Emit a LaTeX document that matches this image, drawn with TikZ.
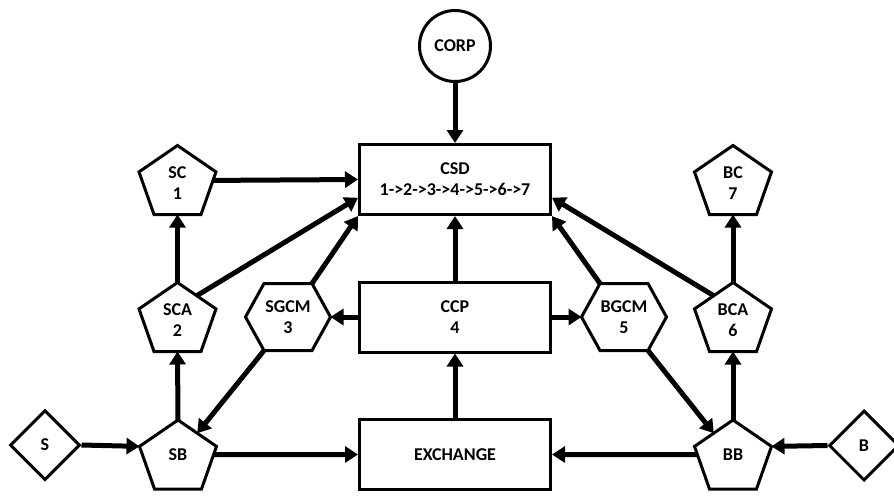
\documentclass[tikz,border=0pt]{standalone}
\usepackage{fontspec}
\setmainfont{Carlito}
\usetikzlibrary{arrows.meta,calc,shapes.geometric}
% pentagon: name, x, y (box centre), text, text shift
\newcommand\pent[5]{%
  \coordinate (#1-t) at (#2,#3-34.5);
  \coordinate (#1-r) at (#2+38.5,#3-8.1);
  \coordinate (#1-br) at (#2+23.5,#3+34.5);
  \coordinate (#1-bl) at (#2-23.5,#3+34.5);
  \coordinate (#1-l) at (#2-38.5,#3-8.1);
  \draw[outl] (#1-t)--(#1-r)--(#1-br)--(#1-bl)--(#1-l)--cycle;
  \node[minimum width=77pt,minimum height=69pt] (#1) at (#2,#3+#5) {#4};
}
% hexagon: name, x, y, text
\newcommand\hexa[4]{%
  \coordinate (#1-l) at (#2-42.5,#3);
  \coordinate (#1-tl) at (#2-24,#3-33.5);
  \coordinate (#1-tr) at (#2+24,#3-33.5);
  \coordinate (#1-r) at (#2+42.5,#3);
  \coordinate (#1-br) at (#2+24,#3+33.5);
  \coordinate (#1-bl) at (#2-24,#3+33.5);
  \draw[outl] (#1-l)--(#1-tl)--(#1-tr)--(#1-r)--(#1-br)--(#1-bl)--cycle;
  \node[minimum width=85pt,minimum height=67pt] (#1) at (#2,#3) {#4};
}
\begin{document}
\begin{tikzpicture}[x=1pt,y=-1pt,
  every node/.style={font=\bfseries\fontsize{18}{21}\selectfont, align=center, inner sep=0pt},
  bx/.style={draw, line width=3pt, rectangle, minimum width=191pt, minimum height=70pt},
  outl/.style={draw, line width=3pt},
  conn/.style={line width=5pt, -{Triangle[length=13pt,width=16pt]}},
  dia/.style={draw, line width=3pt, shape=diamond, minimum width=70pt, minimum height=70pt},
]
\useasboundingbox[fill=white] (0,0) rectangle (894,496);

% central column
\node[draw, line width=3pt, circle, minimum size=71pt] (CORP) at (455,46) {CORP};
\node[bx] (CSD) at (455,179.5) {CSD\\1->2->3->4->5->6->7};
\node[bx] (CCP) at (455,317) {CCP\\4};
\node[bx] (EX) at (455,454.5) {EXCHANGE};

% left side
\pent{SC}{177.5}{180}{SC\\1}{3}
\pent{SCA}{177.5}{317}{SCA\\2}{3}
\pent{SB}{178}{454.5}{SB}{0}
\hexa{SGCM}{288}{317}{SGCM\\3}
\node[dia] (S) at (45,445) {S};

% right side
\pent{BC}{733}{180}{BC\\7}{3}
\pent{BCA}{733}{317}{BCA\\6}{3}
\pent{BB}{733}{454.5}{BB}{0}
\hexa{BGCM}{624}{317}{BGCM\\5}
\node[dia] (B) at (864,445.5) {B};

% connectors
\draw[conn] (CORP) -- (CSD);
\draw[conn] ($(SC-r)!0.2!(SC-br)$) -- (CSD.west);
\draw[conn] ($(SCA-t)!0.5!(SCA-r)$) -- ($(CSD.south west)!0.25!(CSD.north west)$);
\draw[conn] (SGCM-tr) -- (CSD.south west);
\draw[conn] (CCP) -- (CSD);
\draw[conn] (BGCM-tl) -- (CSD.south east);
\draw[conn] ($(BCA-t)!0.5!(BCA-l)$) -- ($(CSD.south east)!0.25!(CSD.north east)$);
\draw[conn] (SCA-t) -- ($(SC-bl)!0.5!(SC-br)$);
\draw[conn] (SB-t) -- ($(SCA-bl)!0.5!(SCA-br)$);
\draw[conn] (CCP.west) -- (SGCM-r);
\draw[conn] (CCP.east) -- (BGCM-l);
\draw[conn] (SGCM-bl) -- ($(SB-t)!0.5!(SB-r)$);
\draw[conn] (BGCM-br) -- ($(BB-t)!0.5!(BB-l)$);
\draw[conn] (EX) -- (CCP);
\draw[conn] ($(SB-r)!0.19!(SB-br)$) -- (EX.west);
\draw[conn] ($(BB-l)!0.19!(BB-bl)$) -- (EX.east);
\draw[conn] (S.east) -- (SB-l);
\draw[conn] (B.west) -- (BB-r);
\draw[conn] (BB-t) -- ($(BCA-bl)!0.5!(BCA-br)$);
\draw[conn] (BCA-t) -- ($(BC-bl)!0.5!(BC-br)$);
\end{tikzpicture}
\end{document}
